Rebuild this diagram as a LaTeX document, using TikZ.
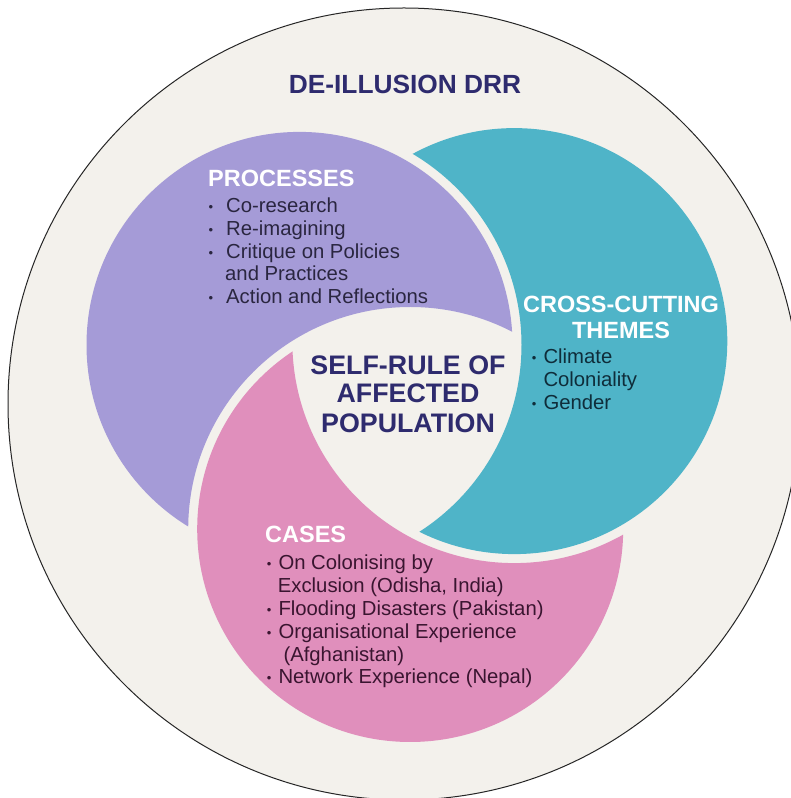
\documentclass[tikz,border=0pt]{standalone}
\usepackage{fontspec}
\setmainfont{Liberation Sans}
\begin{document}
\begin{tikzpicture}[x=1pt,y=1pt]
% palette
\definecolor{paper}{HTML}{F3F1EC}
\definecolor{lilac}{HTML}{A59BD7}
\definecolor{aqua}{HTML}{4FB4C8}
\definecolor{rose}{HTML}{E08FBC}
\definecolor{ink}{HTML}{2E2B6E}
\definecolor{lilacink}{HTML}{2A2640}
\definecolor{aquaink}{HTML}{0F2D3A}
\definecolor{roseink}{HTML}{3A1530}
\tikzset{
  title/.style={font=\bfseries\fontsize{26.3}{28}\selectfont, text=ink, inner sep=0, anchor=base},
  core/.style={font=\bfseries\fontsize{26.8}{29}\selectfont, text=ink, inner sep=0, anchor=base},
  head/.style={font=\bfseries\fontsize{23.5}{25}\selectfont, text=white, inner sep=0, anchor=base west},
  headc/.style={head, anchor=base},
  body/.style={font=\fontsize{20.3}{22}\selectfont, inner sep=0, anchor=base west},
}
\newcommand\bul[1]{\llap{\raisebox{1pt}{\fontsize{13}{13}\selectfont •}\hspace{#1}}}
\def\R{213}   % disc radius
\def\Rg{222}  % disc radius plus the gap
\def\Rw{240}  % oversized disc, keeps fill edges off the clip edge

\useasboundingbox (0,0) rectangle (791,798);
\clip (0,0) rectangle (791,798);
\fill[white] (0,0) rectangle (791,798);

% outer disc
\coordinate (O) at (404,394);
\filldraw[fill=paper, draw=black!85, line width=1pt] (O) circle[radius=396];

% centres of the three interlocking discs
\coordinate (P) at (299.5,453.1);
\coordinate (T) at (514.3,456.9);
\coordinate (K) at (410.2,269.0);

% each disc is cut by the next one, leaving a paper-coloured gap
\begin{scope}
  \clip (P) circle[radius=\R];
  \fill[lilac, even odd rule] (P) circle[radius=\Rw] (K) circle[radius=\Rg];
\end{scope}
\begin{scope}
  \clip (T) circle[radius=\R];
  \fill[aqua, even odd rule] (T) circle[radius=\Rw] (P) circle[radius=\Rg];
\end{scope}
\begin{scope}
  \clip (K) circle[radius=\R];
  \fill[rose, even odd rule] (K) circle[radius=\Rw] (T) circle[radius=\Rg];
\end{scope}

% title
\node[title] (title) at (405,704) {DE-ILLUSION DRR};

% processes
\node[head] (proc-h) at (208,611) {PROCESSES};
\begin{scope}[every node/.style={body, text=lilacink}]
  \node (proc-1) at (226,585.0) {\bul{13pt}Co-research};
  \node (proc-2) at (226,562.4) {\bul{13pt}Re-imagining};
  \node (proc-3) at (226,539.8) {\bul{13pt}Critique on Policies};
  \node (proc-4) at (225,517.2) {and Practices};
  \node (proc-5) at (226,494.6) {\bul{13pt}Action and Reflections};
\end{scope}

% cross-cutting themes
\node[headc] (theme-h1) at (621,485) {CROSS-CUTTING};
\node[headc] (theme-h2) at (621,459) {THEMES};
\begin{scope}[every node/.style={body, text=aquaink}]
  \node (theme-1) at (543.3,434) {\bul{7pt}Climate};
  \node (theme-2) at (543.3,411) {Coloniality};
  \node (theme-3) at (543.3,388) {\bul{7pt}Gender};
\end{scope}

% core
\node[core] (core-1) at (408,423) {SELF-RULE OF};
\node[core] (core-2) at (408,395) {AFFECTED};
\node[core] (core-3) at (408,365) {POPULATION};

% cases
\node[head] (case-h) at (265,255) {CASES};
\begin{scope}[every node/.style={body, text=roseink}]
  \node (case-1) at (278.3,228.0) {\bul{7pt}On Colonising by};
  \node (case-2) at (277.7,205.2) {Exclusion (Odisha, India)};
  \node (case-3) at (278.3,182.4) {\bul{7pt}Flooding Disasters (Pakistan)};
  \node (case-4) at (278.3,159.6) {\bul{7pt}Organisational Experience};
  \node (case-5) at (283.3,136.8) {(Afghanistan)};
  \node (case-6) at (278.3,114.0) {\bul{7pt}Network Experience (Nepal)};
\end{scope}
\end{tikzpicture}
\end{document}
